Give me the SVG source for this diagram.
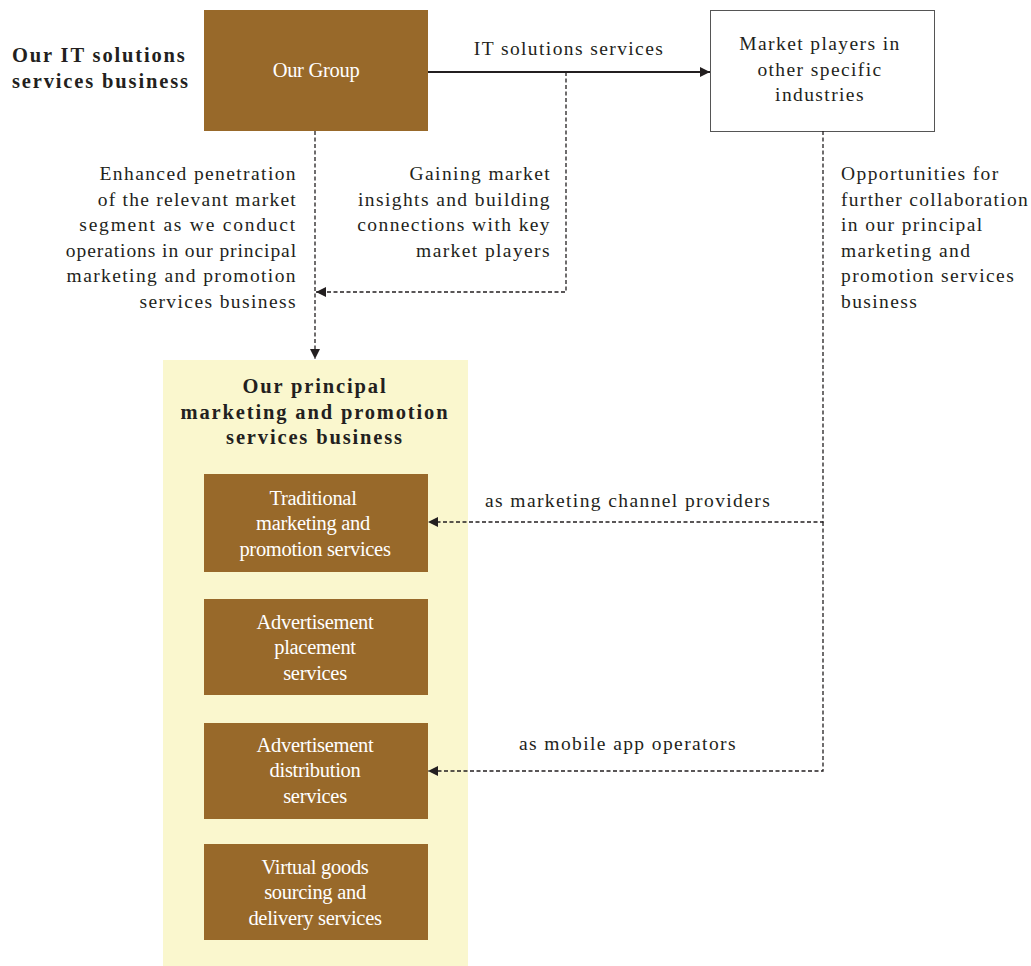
<svg xmlns="http://www.w3.org/2000/svg" width="1031" height="966" viewBox="0 0 1031 966">
<style>
.brown{fill:#98692A}
.wt{font-family:"Liberation Serif",serif;font-size:20.5px;fill:#ffffff;text-anchor:middle;letter-spacing:-0.3px}
.lbl{font-family:"Liberation Serif",serif;font-size:19.5px;fill:#231f20;letter-spacing:1.4px}
.bold{font-family:"Liberation Serif",serif;font-size:20.5px;font-weight:bold;fill:#231f20;letter-spacing:1.85px}
.dash{fill:none;stroke:#231f20;stroke-width:1.3;stroke-dasharray:4 2.5}
.solid{fill:none;stroke:#231f20;stroke-width:2}
</style>
<defs>
<marker id="ah" viewBox="0 0 10 10" refX="10" refY="5" markerWidth="10" markerHeight="10" markerUnits="userSpaceOnUse" orient="auto">
<path d="M0,0 L10,5 L0,10 z" fill="#231f20"/>
</marker>
</defs>
<rect width="1031" height="966" fill="#ffffff"/>
<text class="bold" x="12" y="62">Our IT solutions</text>
<text class="bold" x="12" y="88">services business</text>
<g id="panel">
<rect x="163" y="360" width="305" height="606" fill="#FAF7CE"/>
<text class="bold" text-anchor="middle" x="315" y="393">Our principal</text>
<text class="bold" text-anchor="middle" x="315" y="419">marketing and promotion</text>
<text class="bold" text-anchor="middle" x="315" y="444">services business</text>
</g>
<g id="our-group">
<rect class="brown" x="204" y="10" width="224" height="121"/>
<text class="wt" x="316" y="77">Our Group</text>
</g>
<g id="market-players">
<rect x="710.5" y="10.5" width="224" height="121" fill="#ffffff" stroke="#555" stroke-width="1"/>
<text class="lbl" text-anchor="middle" x="820" y="50">Market players in</text>
<text class="lbl" text-anchor="middle" x="820" y="76">other specific</text>
<text class="lbl" text-anchor="middle" x="820" y="101">industries</text>
</g>
<g id="traditional">
<rect class="brown" x="204" y="474" width="224" height="98"/>
<text class="wt" x="313" y="505">Traditional</text>
<text class="wt" x="313" y="530">marketing and</text>
<text class="wt" x="315" y="556">promotion services</text>
</g>
<g id="placement">
<rect class="brown" x="204" y="599" width="224" height="96"/>
<text class="wt" x="315" y="629">Advertisement</text>
<text class="wt" x="315" y="654">placement</text>
<text class="wt" x="315" y="680">services</text>
</g>
<g id="distribution">
<rect class="brown" x="204" y="723" width="224" height="96"/>
<text class="wt" x="315" y="752">Advertisement</text>
<text class="wt" x="315" y="777">distribution</text>
<text class="wt" x="315" y="803">services</text>
</g>
<g id="virtual">
<rect class="brown" x="204" y="844" width="224" height="96"/>
<text class="wt" x="315" y="874">Virtual goods</text>
<text class="wt" x="315" y="899">sourcing and</text>
<text class="wt" x="315" y="925">delivery services</text>
</g>
<g id="connectors">
<line class="solid" x1="428" y1="72" x2="710" y2="72" marker-end="url(#ah)"/>
<polyline class="dash" points="566,72 566,292 316,292" marker-end="url(#ah)"/>
<line class="dash" x1="315" y1="131" x2="315" y2="359" marker-end="url(#ah)"/>
<polyline class="dash" points="823,131 823,522 428,522" marker-end="url(#ah)"/>
<polyline class="dash" points="823,522 823,771 428,771" marker-end="url(#ah)"/>
</g>
<g id="labels">
<text class="lbl" text-anchor="middle" x="569" y="55">IT solutions services</text>
<g text-anchor="end">
<text class="lbl" x="297" y="180">Enhanced penetration</text>
<text class="lbl" x="297" y="206" style="letter-spacing:1.26px">of the relevant market</text>
<text class="lbl" x="297" y="231" style="letter-spacing:1.78px">segment as we conduct</text>
<text class="lbl" x="297" y="257" style="letter-spacing:0.92px">operations in our principal</text>
<text class="lbl" x="297" y="282">marketing and promotion</text>
<text class="lbl" x="297" y="308">services business</text>
<text class="lbl" x="551" y="180">Gaining market</text>
<text class="lbl" x="551" y="206">insights and building</text>
<text class="lbl" x="551" y="231">connections with key</text>
<text class="lbl" x="551" y="257">market players</text>
</g>
<text class="lbl" x="841" y="180">Opportunities for</text>
<text class="lbl" x="841" y="206" style="letter-spacing:1.3px">further collaboration</text>
<text class="lbl" x="841" y="231">in our principal</text>
<text class="lbl" x="841" y="257">marketing and</text>
<text class="lbl" x="841" y="282">promotion services</text>
<text class="lbl" x="841" y="308">business</text>
<text class="lbl" x="485" y="507">as marketing channel providers</text>
<text class="lbl" x="519" y="750">as mobile app operators</text>
</g>
</svg>
